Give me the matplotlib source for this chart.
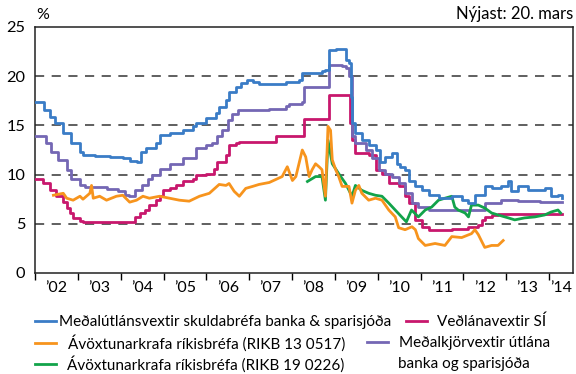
"""Interest rates in Iceland 2002-2014: loan rates, policy rate and bond yields."""

import matplotlib

matplotlib.use("Agg")

import matplotlib.pyplot as plt  # noqa: E402

plt.rcParams["font.family"] = ["Lato", "DejaVu Sans"]

# Meðalútlánsvextir skuldabréfa banka & sparisjóða (monthly, step)
loan_t = [2002.0, 2002.21, 2002.36, 2002.47, 2002.65, 2002.85, 2003.05, 2003.12, 2003.4,
          2003.74, 2004.05, 2004.21, 2004.37, 2004.48, 2004.6, 2004.83, 2004.91, 2005.14,
          2005.45, 2005.68, 2005.76, 2005.99, 2006.22, 2006.3, 2006.46, 2006.53, 2006.69,
          2006.81, 2006.96, 2007.08, 2007.23, 2007.54, 2007.85, 2008.16, 2008.24, 2008.71,
          2008.78, 2008.86, 2009.02, 2009.21, 2009.25, 2009.33, 2009.37, 2009.40, 2009.48,
          2009.64, 2009.79, 2009.95, 2010.05, 2010.18, 2010.33, 2010.45, 2010.52, 2010.64,
          2010.72, 2010.88, 2011.03, 2011.19, 2011.42, 2011.73, 2011.96, 2012.12, 2012.27,
          2012.5, 2012.66, 2012.89, 2013.05, 2013.12, 2013.28, 2013.51, 2013.74, 2013.9,
          2014.05, 2014.21, 2014.3]
loan_v = [17.4, 16.6, 15.9, 15.2, 14.2, 13.2, 12.3, 12.0, 11.9,
          11.8, 11.7, 11.4, 11.3, 12.3, 12.7, 13.2, 14.0, 14.2,
          14.5, 14.9, 15.2, 15.8, 16.3, 16.9, 17.6, 18.4, 18.9,
          19.3, 19.6, 19.4, 19.2, 19.2, 19.4, 19.6, 20.3, 20.5,
          20.6, 22.7, 22.8, 22.8, 21.6, 21.3, 17.9, 15.2, 14.2,
          13.5, 13.0, 12.5, 11.3, 11.8, 12.2, 11.1, 10.8, 10.5,
          9.3, 8.8, 8.4, 7.9, 7.6, 7.8, 7.4, 7.1, 7.9,
          8.8, 8.6, 8.8, 9.3, 8.3, 8.8, 8.4, 8.4, 8.6,
          7.8, 7.9, 7.6]

# Meðalkjörvextir útlána banka og sparisjóða (monthly, step)
prime_t = [2002.0, 2002.25, 2002.38, 2002.53, 2002.74, 2002.85, 2003.05, 2003.16, 2003.67,
           2003.93, 2004.09, 2004.2, 2004.33, 2004.49, 2004.64, 2004.72, 2004.91, 2005.14,
           2005.45, 2005.76, 2005.99, 2006.14, 2006.26, 2006.37, 2006.5, 2006.61, 2006.73,
           2007.47, 2007.86, 2007.93, 2008.24, 2008.28, 2008.86, 2009.17, 2009.25, 2009.33,
           2009.40, 2009.48, 2009.72, 2009.87, 2010.02, 2010.18, 2010.33, 2010.49, 2010.64,
           2010.8, 2010.95, 2011.19, 2012.35, 2012.5, 2012.89, 2013.28, 2013.8, 2014.3]
prime_v = [13.9, 13.2, 12.3, 11.5, 10.5, 9.6, 8.9, 8.7, 8.5,
           8.3, 7.9, 7.8, 8.4, 8.9, 9.6, 10.0, 10.6, 11.1,
           11.7, 12.7, 13.0, 13.2, 13.9, 14.5, 15.5, 16.2, 16.6,
           16.7, 17.0, 17.2, 17.4, 18.9, 21.1, 21.0, 20.8, 20.0,
           13.9, 13.2, 12.5, 11.7, 10.5, 10.1, 9.8, 9.1, 8.1,
           7.1, 6.7, 6.4, 6.4, 7.1, 7.4, 7.3, 7.2, 7.2]

# Veðlánavextir SÍ (policy rate, step)
policy_t = [2002.0, 2002.19, 2002.35, 2002.5, 2002.66, 2002.74, 2002.81, 2002.89, 2003.05,
            2003.12, 2004.33, 2004.44, 2004.56, 2004.67, 2004.83, 2004.91, 2004.98, 2005.14,
            2005.3, 2005.45, 2005.68, 2005.76, 2005.99, 2006.19, 2006.26, 2006.46, 2006.53,
            2006.69, 2006.77, 2007.0, 2007.62, 2008.28, 2008.86, 2009.36, 2009.40, 2009.48,
            2009.79, 2009.95, 2010.1, 2010.26, 2010.49, 2010.64, 2010.72, 2010.88, 2011.03,
            2011.19, 2011.73, 2012.12, 2012.35, 2012.43, 2012.5, 2012.66, 2012.81, 2014.3]
policy_v = [9.6, 9.1, 8.4, 7.8, 7.2, 6.6, 6.1, 5.6, 5.3,
            5.2, 5.7, 6.1, 6.4, 6.9, 7.4, 7.8, 8.4, 8.6,
            8.9, 9.3, 9.6, 10.0, 10.1, 10.6, 11.3, 12.0, 13.0,
            13.2, 13.3, 13.3, 13.9, 15.6, 18.1, 15.2, 13.5, 12.2,
            12.0, 10.5, 10.1, 9.1, 8.8, 7.8, 7.1, 5.4, 4.7,
            4.4, 4.5, 4.7, 4.9, 5.4, 5.7, 5.9, 6.0, 6.0]

# Ávöxtunarkrafa ríkisbréfa (RIKB 13 0517)
rikb13_t = [2002.43, 2002.54, 2002.66, 2002.74, 2002.89, 2003.05, 2003.12, 2003.28, 2003.32,
            2003.36, 2003.51, 2003.67, 2003.9, 2004.05, 2004.21, 2004.37, 2004.52, 2004.67,
            2004.91, 2005.14, 2005.37, 2005.6, 2005.84, 2006.07, 2006.3, 2006.46, 2006.53,
            2006.65, 2006.77, 2006.92, 2007.08, 2007.23, 2007.47, 2007.62, 2007.77, 2007.89,
            2008.01, 2008.09, 2008.24, 2008.32, 2008.40, 2008.47, 2008.55, 2008.63, 2008.70,
            2008.78, 2008.84, 2008.9, 2008.94, 2009.02, 2009.09, 2009.17, 2009.33, 2009.40,
            2009.48, 2009.56, 2009.63, 2009.79, 2009.95, 2010.1, 2010.26, 2010.41, 2010.49,
            2010.64, 2010.80, 2010.88, 2010.95, 2011.11, 2011.34, 2011.57, 2011.73, 2011.96,
            2012.19, 2012.27, 2012.35, 2012.43, 2012.5, 2012.66, 2012.81, 2012.93]
rikb13_v = [7.9, 8.0, 8.1, 7.6, 7.4, 7.8, 7.5, 8.1, 8.9,
            7.6, 7.8, 7.4, 7.8, 7.9, 7.2, 7.4, 7.8, 7.6,
            7.8, 7.6, 7.4, 7.3, 7.8, 8.1, 9.0, 8.9, 9.1,
            8.3, 7.8, 8.6, 8.8, 9.0, 9.2, 9.5, 9.8, 10.8,
            9.4, 9.8, 12.5, 11.8, 9.8, 10.5, 11.1, 10.8, 10.5,
            7.8, 14.9, 14.5, 11.5, 10.5, 9.8, 8.8, 8.8, 7.1,
            8.4, 8.9, 8.1, 7.4, 7.6, 7.4, 6.4, 5.7, 4.6,
            4.4, 4.7, 4.4, 3.5, 2.8, 3.0, 2.8, 3.7, 3.6,
            4.0, 4.4, 3.9, 3.2, 2.6, 2.8, 2.8, 3.3]

# Ávöxtunarkrafa ríkisbréfa (RIKB 19 0226)
rikb19_t = [2008.36, 2008.55, 2008.70, 2008.78, 2008.84, 2008.94, 2009.09, 2009.25, 2009.40,
            2009.48, 2009.63, 2009.79, 2009.95, 2010.10, 2010.26, 2010.41, 2010.56, 2010.67,
            2010.79, 2010.95, 2011.11, 2011.26, 2011.42, 2011.57, 2011.73, 2011.8, 2011.88,
            2012.04, 2012.12, 2012.19, 2012.35, 2012.5, 2012.66, 2012.81, 2013.05, 2013.2,
            2013.43, 2013.67, 2013.9, 2014.05, 2014.21, 2014.27]
rikb19_v = [9.3, 9.8, 9.8, 7.4, 13.5, 11.1, 10.1, 9.1, 7.8,
            8.9, 8.4, 8.1, 7.9, 7.8, 7.1, 6.4, 5.7, 5.2,
            6.4, 5.7, 6.4, 6.7, 7.4, 7.6, 7.8, 6.7, 6.4,
            6.1, 5.7, 6.9, 6.9, 6.6, 6.1, 5.9, 5.6, 5.4,
            5.6, 5.7, 5.9, 6.2, 6.4, 6.1]

years = list(range(2002, 2015))
year_labels = ["’02", "’03", "’04", "’05", "’06", "’07", "’08", "’09", "’10",
               "’11", "’12", "’13", "’14"]

BLUE = "#3a7cc6"
ORANGE = "#f7941d"
GREEN = "#12a34a"
MAGENTA = "#c8176d"
PURPLE = "#7467b4"

W, H = 576, 374
X_END = 2014.56
LW = 2.0
FS = 11.5      # axis text
LEG_FS = 11.0  # legend text

fig = plt.figure(figsize=(W / 100, H / 100), dpi=100)
ax = fig.add_axes([35 / W, 1 - 273 / H, (573 - 35) / W, (273 - 27) / H])

l_policy, = ax.plot(policy_t, policy_v, color=MAGENTA, lw=LW, drawstyle="steps-post", zorder=3)
l_prime, = ax.plot(prime_t, prime_v, color=PURPLE, lw=LW, drawstyle="steps-post", zorder=4)
l_19, = ax.plot(rikb19_t, rikb19_v, color=GREEN, lw=LW, zorder=5)
l_13, = ax.plot(rikb13_t, rikb13_v, color=ORANGE, lw=LW, zorder=6)
l_loan, = ax.plot(loan_t, loan_v, color=BLUE, lw=LW, drawstyle="steps-post", zorder=7)

ax.set_xlim(2002.0, X_END)
ax.set_ylim(0, 25)
ax.set_yticks([0, 5, 10, 15, 20, 25])
ax.tick_params(axis="y", length=0, pad=7, labelsize=FS + 0.3)

# year boundaries get the tick marks, labels sit in the middle of each year
ax.set_xticks(years)
ax.set_xticklabels([])
bounds = years + [X_END]
mids = [(a + b) / 2 for a, b in zip(bounds[:-1], bounds[1:])]
ax.set_xticks(mids, minor=True)
ax.set_xticklabels(year_labels, minor=True)
ax.tick_params(axis="x", which="major", direction="out", length=5, width=1)
ax.tick_params(axis="x", which="minor", length=0, pad=6, labelsize=FS)

for y in [5, 10, 15, 20]:
    ax.axhline(y, color="#444444", lw=1.2, linestyle=(0, (5.5, 4.5)), zorder=1)

for s in ax.spines.values():
    s.set_linewidth(1.1)
    s.set_color("#222222")

fig.text(36 / W, 1 - 15 / H, "%", fontsize=FS, ha="left", va="center")
fig.text(573 / W, 1 - 14 / H, "Nýjast: 20. mars", fontsize=FS + 0.5, ha="right", va="center")


def legend_entry(line, label, x, y, pad):
    fig.legend([line], [label], loc="center left", bbox_to_anchor=(x / W, 1 - y / H),
               frameon=False, fontsize=LEG_FS, handlelength=1.4, handletextpad=pad,
               borderpad=0, borderaxespad=0)


legend_entry(l_loan, "Meðalútlánsvextir skuldabréfa banka & sparisjóða", 35, 322, 0.2)
legend_entry(l_13, "Ávöxtunarkrafa ríkisbréfa (RIKB 13 0517)", 35, 343, 0.75)
legend_entry(l_19, "Ávöxtunarkrafa ríkisbréfa (RIKB 19 0226)", 35, 364, 0.7)
legend_entry(l_policy, "Veðlánavextir SÍ", 406, 322, 0.6)
legend_entry(l_prime, "Meðalkjörvextir útlána", 367, 343, 0.7)
fig.text(398 / W, 1 - 364 / H, "banka og sparisjóða", fontsize=LEG_FS, ha="left", va="center")

fig.savefig("out.png", dpi=100)
